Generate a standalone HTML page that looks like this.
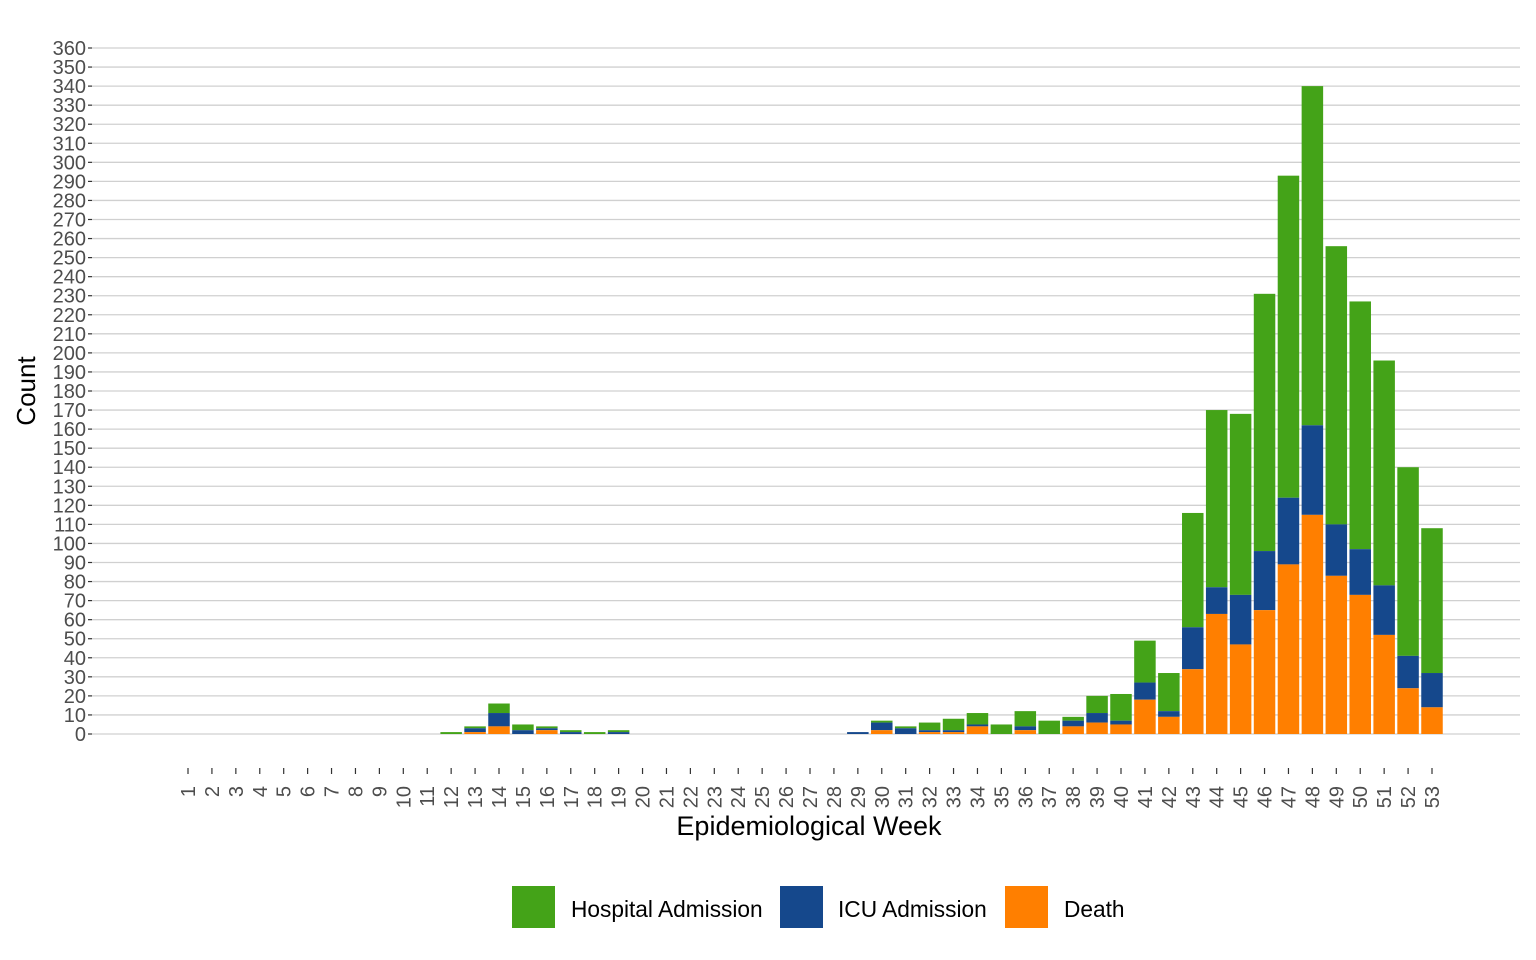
<!DOCTYPE html>
<html><head><meta charset="utf-8"><style>body{margin:0;background:#fff}svg{display:block}text{font-family:"Liberation Sans",sans-serif}</style></head>
<body>
<svg id="s" width="1536" height="960" xmlns="http://www.w3.org/2000/svg"></svg>
<script>
const s=document.getElementById('s');let h='';
const y0=734,k=686/360;
for(let v=0;v<=360;v+=10){const y=y0-v*k;
h+=`<line x1="92" x2="1520" y1="${y}" y2="${y}" stroke="#d0d0d0" stroke-width="1.3"/>`;
h+=`<line x1="88" x2="92" y1="${y}" y2="${y}" stroke="#333" stroke-width="1.2"/>`;
h+=`<text x="86" y="${y+7}" font-size="20" fill="#4d4d4d" text-anchor="end">${v}</text>`;}
const d={12:[1,0,0],13:[4,3,1],14:[16,11,4],15:[5,2,0],16:[4,3,2],17:[2,1,0],18:[1,0,0],19:[2,1,0],29:[1,1,0],30:[7,6,2],31:[4,3,0],32:[6,2,1],33:[8,2,1],34:[11,5,4],35:[5,0,0],36:[12,4,2],37:[7,0,0],38:[9,7,4],39:[20,11,6],40:[21,7,5],41:[49,27,18],42:[32,12,9],43:[116,56,34],44:[170,77,63],45:[168,73,47],46:[231,96,65],47:[293,124,89],48:[340,162,115],49:[256,110,83],50:[227,97,73],51:[196,78,52],52:[140,41,24],53:[108,32,14]};
const sp=(1432-188)/52,bw=21.5;
for(let w=1;w<=53;w++){const x=188+(w-1)*sp;
h+=`<line x1="${x}" x2="${x}" y1="768" y2="774" stroke="#333" stroke-width="1.2"/>`;
h+=`<text transform="translate(${x+7},786) rotate(-90)" font-size="20" fill="#4d4d4d" text-anchor="end">${w}</text>`;
if(d[w]){const [t,i,de]=d[w];const r=(a,b,c)=>{if(b>a)h+=`<rect x="${x-bw/2}" y="${y0-b*k}" width="${bw}" height="${(b-a)*k}" fill="${c}"/>`;};
r(i,t,'#44A318');r(de,i,'#15488C');r(0,de,'#FF7F00');}}
h+=`<text x="809" y="835" font-size="27" fill="#000" text-anchor="middle">Epidemiological Week</text>`;
h+=`<text transform="translate(35,391) rotate(-90)" font-size="26" fill="#000" text-anchor="middle">Count</text>`;
const L=[[512,'#44A318','Hospital Admission',571],[780,'#15488C','ICU Admission',838],[1005,'#FF7F00','Death',1064]];
for(const [x,c,t,tx] of L){h+=`<rect x="${x}" y="886" width="43" height="42" fill="${c}"/><text x="${tx}" y="917" font-size="22.7" fill="#000">${t}</text>`;}
s.innerHTML=h;
</script>
</body></html>
